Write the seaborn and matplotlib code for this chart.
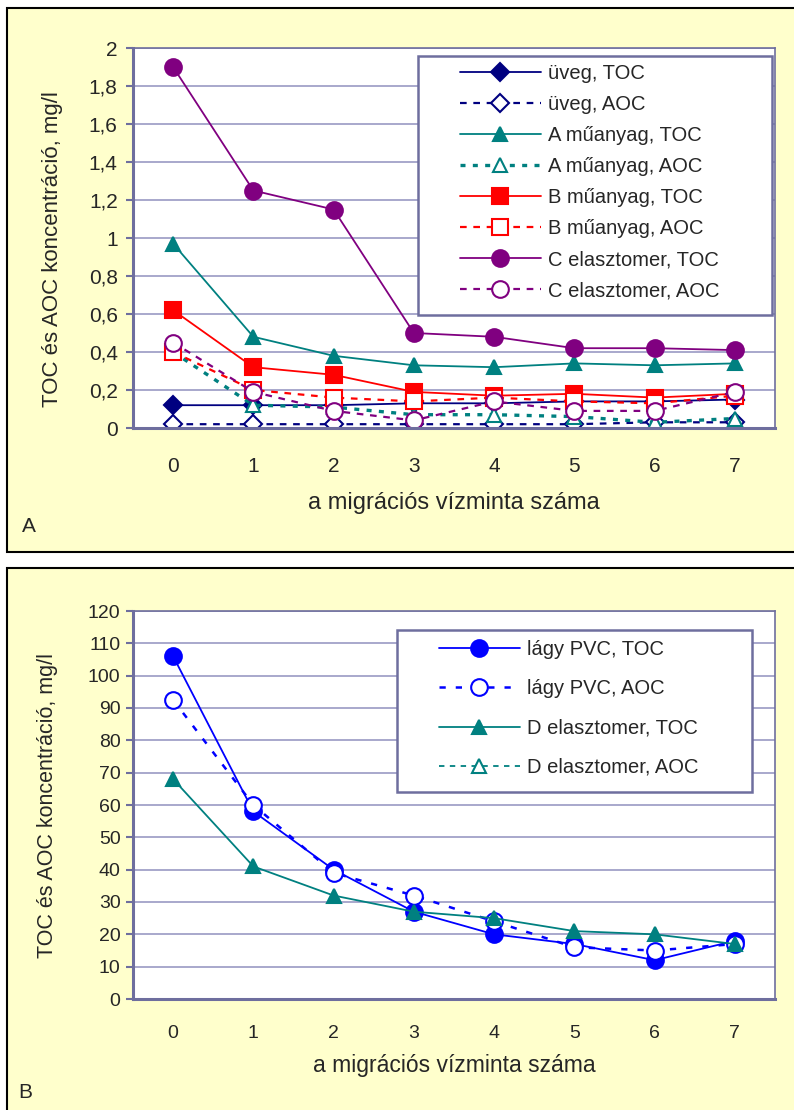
import numpy as np
import pandas as pd
import matplotlib
matplotlib.use("Agg")
import matplotlib.pyplot as plt
from matplotlib.patches import Rectangle
from matplotlib.ticker import FuncFormatter, FixedLocator
import seaborn as sns

# ---------------- data ----------------
samples = [0, 1, 2, 3, 4, 5, 6, 7]

# Panel A (mg/l)
uveg_toc = [0.12, 0.12, 0.12, 0.13, 0.13, 0.14, 0.14, 0.15]
uveg_aoc = [0.02, 0.02, 0.02, 0.02, 0.02, 0.02, 0.03, 0.03]
a_toc = [0.97, 0.48, 0.38, 0.33, 0.32, 0.34, 0.33, 0.34]
a_aoc = [0.40, 0.12, 0.11, 0.07, 0.07, 0.06, 0.03, 0.05]
b_toc = [0.62, 0.32, 0.28, 0.19, 0.17, 0.18, 0.16, 0.18]
b_aoc = [0.40, 0.20, 0.16, 0.14, 0.16, 0.14, 0.13, 0.17]
c_toc = [1.90, 1.25, 1.15, 0.50, 0.48, 0.42, 0.42, 0.41]
c_aoc = [0.45, 0.19, 0.09, 0.04, 0.14, 0.09, 0.09, 0.19]

# Panel B (mg/l)
pvc_toc = [106, 58, 40, 27, 20, 17, 12, 18]
pvc_aoc = [92.5, 60, 39, 32, 24, 16, 15, 17]
d_toc = [68, 41, 32, 27, 25, 21, 20, 17]
d_aoc = [np.nan] * 8

labels_a = ["üveg, TOC", "üveg, AOC", "A műanyag, TOC", "A műanyag, AOC",
            "B műanyag, TOC", "B műanyag, AOC", "C elasztomer, TOC", "C elasztomer, AOC"]
labels_b = ["lágy PVC, TOC", "lágy PVC, AOC", "D elasztomer, TOC", "D elasztomer, AOC"]

yticks_a = [0, 0.2, 0.4, 0.6, 0.8, 1.0, 1.2, 1.4, 1.6, 1.8, 2.0]
yticks_b = [0, 10, 20, 30, 40, 50, 60, 70, 80, 90, 100, 110, 120]

xlabel = "a migrációs vízminta száma"
ylabel = "TOC és AOC koncentráció, mg/l"

# ---------------- style ----------------
sns.set_style("white")
plt.rcParams['font.family'] = ['Liberation Sans', 'DejaVu Sans']

W, H = 794, 1110
fig = plt.figure(figsize=(W / 100, H / 100), dpi=100)
fig.patch.set_facecolor("white")

PANEL_BG = "#FFFFCC"
AXC = "#6E6E9E"
GRIDC = "#9A9AC4"
NAVY = "#000080"
TEAL = "#008080"
RED = "#FF0000"
PURPLE = "#800080"
BLUE = "#0000FF"


def fx(px):
    return px / W


def fy(py):
    return 1 - py / H


# panel backgrounds
fig.patches.append(Rectangle((fx(7), fy(552)), fx(800) - fx(7), fy(8) - fy(552),
                             transform=fig.transFigure, facecolor=PANEL_BG,
                             edgecolor="black", linewidth=1.5, zorder=-10))
fig.patches.append(Rectangle((fx(7), fy(1115)), fx(800) - fx(7), fy(568) - fy(1115),
                             transform=fig.transFigure, facecolor=PANEL_BG,
                             edgecolor="black", linewidth=1.5, zorder=-10))

# axes in pixel geometry
A_L, A_R, A_T, A_B = 133, 775, 48, 428
B_L, B_R, B_T, B_B = 133, 775, 611, 999
axA = fig.add_axes([fx(A_L), fy(A_B), fx(A_R) - fx(A_L), fy(A_T) - fy(A_B)])
axB = fig.add_axes([fx(B_L), fy(B_B), fx(B_R) - fx(B_L), fy(B_T) - fy(B_B)])


def style_axes(ax, yticks, fmt, tick_fs, xpad, ypad):
    ax.set_facecolor("white")
    ax.set_xlim(-0.5, 7.5)
    ax.set_ylim(yticks[0], yticks[-1])
    ax.set_yticks(yticks)
    ax.yaxis.set_major_formatter(FuncFormatter(fmt))
    ax.set_xticks(samples)
    ax.set_xticklabels([str(s) for s in samples])
    ax.xaxis.set_minor_locator(FixedLocator(np.arange(-0.5, 8, 1.0)))
    ax.tick_params(axis="x", which="major", length=0, pad=xpad, labelsize=tick_fs)
    ax.tick_params(axis="x", which="minor", length=5, width=1.5, color=AXC, direction="out")
    ax.tick_params(axis="y", which="major", length=5, width=1.5, color=AXC,
                   direction="out", labelsize=tick_fs, pad=ypad, left=True)
    ax.grid(axis="y", color=GRIDC, linewidth=1.2)
    ax.grid(axis="x", visible=False)
    ax.set_axisbelow(True)
    for side in ["top", "right"]:
        ax.spines[side].set_color(AXC)
        ax.spines[side].set_linewidth(1.2)
    for side in ["left", "bottom"]:
        ax.spines[side].set_color(AXC)
        ax.spines[side].set_linewidth(2.2)


def fmtA(v, pos):
    s = f"{v:.1f}".rstrip("0").rstrip(".")
    return s.replace(".", ",")


def fmtB(v, pos):
    return f"{int(round(v))}"


def draw(ax, y, label, color, marker, ms, filled, ls, lw=1.3):
    kw = dict(markersize=ms, markeredgecolor=color, markeredgewidth=1.5,
              markerfacecolor=color if filled else "white")
    sns.lineplot(x=samples, y=y, ax=ax, color=color, marker=marker, linestyle=ls,
                 linewidth=lw, label=label, sort=False, errorbar=None, **kw)


def legend_box(ax, L, R, T, B, ax_l, ax_r, ax_t, ax_b):
    w = ax_r - ax_l
    h = ax_b - ax_t
    rect = Rectangle(((L - ax_l) / w, (ax_b - B) / h), (R - L) / w, (B - T) / h,
                     transform=ax.transAxes, facecolor="white", edgecolor=AXC,
                     linewidth=1.8, zorder=4, clip_on=False)
    ax.add_patch(rect)


# ---------------- Panel A ----------------
dash = (0, (3, 3))
dot = (0, (1.5, 2.2))
draw(axA, uveg_toc, labels_a[0], NAVY, "D", 9, True, "-")
draw(axA, uveg_aoc, labels_a[1], NAVY, "D", 9, False, dash, lw=1.6)
draw(axA, a_toc, labels_a[2], TEAL, "^", 10.5, True, "-")
draw(axA, a_aoc, labels_a[3], TEAL, "^", 10, False, dot, lw=2.4)
draw(axA, b_toc, labels_a[4], RED, "s", 11, True, "-")
draw(axA, b_aoc, labels_a[5], RED, "s", 11, False, dash, lw=1.6)
draw(axA, c_toc, labels_a[6], PURPLE, "o", 12, True, "-")
draw(axA, c_aoc, labels_a[7], PURPLE, "o", 12, False, dash, lw=1.6)

style_axes(axA, yticks_a, fmtA, 15, xpad=21, ypad=6)
axA.set_xlabel(xlabel, fontsize=17)
axA.xaxis.set_label_coords(0.5, (A_B - 492) / (A_B - A_T))
axA.set_ylabel(ylabel, fontsize=16)
axA.yaxis.set_label_coords((63 - A_L) / (A_R - A_L), (A_B - 249) / (A_B - A_T))

legend_box(axA, 418, 772, 56, 315, A_L, A_R, A_T, A_B)
legA = axA.legend(loc="center left",
                  bbox_to_anchor=((460 - A_L) / (A_R - A_L), (A_B - 182) / (A_B - A_T)),
                  fontsize=14.5, frameon=False, handlelength=4.0, labelspacing=0.6,
                  borderpad=0, handletextpad=0.35, borderaxespad=0, numpoints=1)
legA.set_zorder(5)

fig.text(fx(22), fy(527), "A", fontsize=15, ha="left", va="center")

# ---------------- Panel B ----------------
draw(axB, pvc_toc, labels_b[0], BLUE, "o", 12, True, "-")
draw(axB, pvc_aoc, labels_b[1], BLUE, "o", 12, False, (0, (2.5, 4)), lw=1.8)
draw(axB, d_toc, labels_b[2], TEAL, "^", 10, True, "-")
draw(axB, d_aoc, labels_b[3], TEAL, "^", 10, False, dash, lw=1.3)

style_axes(axB, yticks_b, fmtB, 14, xpad=19, ypad=4)
axB.set_xlabel(xlabel, fontsize=16.5)
axB.xaxis.set_label_coords(0.5, (B_B - 1054) / (B_B - B_T))
axB.set_ylabel(ylabel, fontsize=15.5)
axB.yaxis.set_label_coords((58 - B_L) / (B_R - B_L), (B_B - 806) / (B_B - B_T))

legend_box(axB, 397, 752, 630, 792, B_L, B_R, B_T, B_B)
legB = axB.legend(loc="center left",
                  bbox_to_anchor=((439 - B_L) / (B_R - B_L), (B_B - 708.5) / (B_B - B_T)),
                  fontsize=14.5, frameon=False, handlelength=4.0, labelspacing=1.0,
                  borderpad=0, handletextpad=0.35, borderaxespad=0, numpoints=1)
legB.set_zorder(5)

fig.text(fx(18), fy(1093), "B", fontsize=15, ha="left", va="center")

fig.savefig("out.png", dpi=100, facecolor=fig.get_facecolor())
